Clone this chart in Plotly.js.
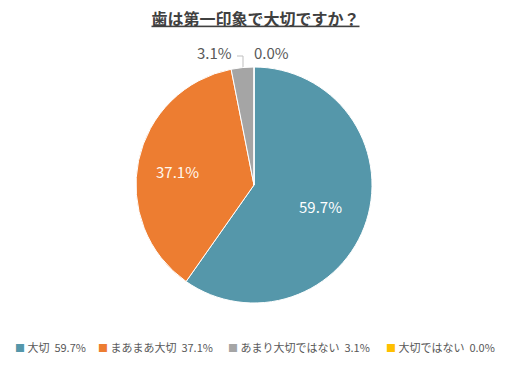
<!DOCTYPE html>
<html><head><meta charset="utf-8">
<script src="https://cdn.plot.ly/plotly-3.0.1.min.js"></script>
<style>body{margin:0;padding:0;background:#fff}#chart{width:511px;height:365px}</style>
</head><body><div id="chart"></div>
<script>
const categories = ['大切', 'まあまあ大切', 'あまり大切ではない', '大切ではない'];
const values = [59.7, 37.1, 3.1, 0.0];
const colors = ['#5597AA', '#ED7D31', '#A5A5A5', '#FFC000'];
const textLabels = values.map(v => v.toFixed(1) + '%');

const W = 511, H = 365;
const px = x => x / W;
const py = y => (H - y) / H;

const trace = {
  type: 'pie',
  labels: categories,
  values: values,
  sort: false,
  direction: 'clockwise',
  rotation: 0,
  marker: {colors: colors, line: {color: '#ffffff', width: 1}},
  textinfo: 'none',
  textposition: 'none',
  domain: {x: [px(136), px(372)], y: [py(303), py(67)]},
  automargin: false,
  hoverinfo: 'none',
  showlegend: false
};

// label anchor positions (pixels) for each slice's text
const labelPos = [[320, 206], [177, 171], [214, 53], [271, 53]];
const labelColor = ['#ffffff', '#fff8ee', '#595959', '#595959'];
const annotations = textLabels.map((t, i) => ({
  text: t, xref: 'paper', yref: 'paper',
  x: px(labelPos[i][0]), y: py(labelPos[i][1]),
  xanchor: 'center', yanchor: 'middle', showarrow: false,
  font: {size: 15, color: labelColor[i], family: 'Noto Sans CJK JP, sans-serif'}
}));

// custom legend row
const legendX = [13, 96, 226, 384];
categories.forEach((c, i) => {
  annotations.push({
    text: '<span style="color:' + colors[i] + ';font-size:10px">■</span> ' + c + '  ' + textLabels[i],
    xref: 'paper', yref: 'paper', x: px(legendX[i]), y: py(347),
    xanchor: 'left', yanchor: 'middle', showarrow: false,
    font: {size: 11, color: '#595959', family: 'Noto Sans CJK JP, sans-serif'}
  });
});

const layout = {
  width: W, height: H,
  margin: {l: 0, r: 0, t: 0, b: 0},
  paper_bgcolor: '#ffffff',
  font: {family: 'Noto Sans CJK JP, sans-serif', color: '#595959'},
  title: {
    text: '<b><span style="text-decoration:underline">歯は第一印象で大切ですか？</span></b>',
    font: {size: 16, color: '#404040', family: 'Noto Sans CJK JP, sans-serif'},
    x: 0.5, xanchor: 'center', y: py(19), yanchor: 'middle'
  },
  showlegend: false,
  annotations: annotations,
  shapes: [{
    type: 'path', xref: 'paper', yref: 'paper',
    path: 'M ' + px(237) + ' ' + py(56) + ' L ' + px(243) + ' ' + py(56) + ' L ' + px(243) + ' ' + py(67),
    line: {color: '#BFBFBF', width: 1}
  }]
};
Plotly.newPlot('chart', [trace], layout, {displayModeBar: false, staticPlot: true});
</script></body></html>
